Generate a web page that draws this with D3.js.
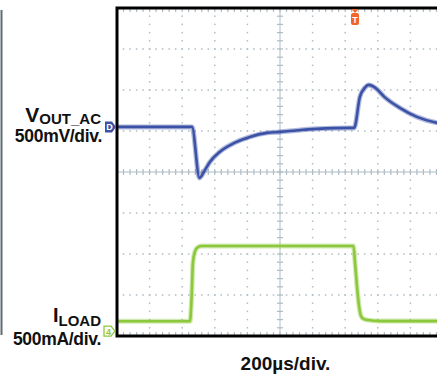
<!DOCTYPE html>
<html>
<head>
<meta charset="utf-8">
<script src="https://cdn.jsdelivr.net/npm/d3@7"></script>
<style>
  html, body { margin: 0; padding: 0; background: #fff; }
  text { font-family: "Liberation Sans", Arial, Helvetica, sans-serif; font-weight: bold; fill: #111; }
</style>
</head>
<body>
<div id="chart"></div>
<script>
// time in µs, 200 µs/div, 10 divisions
const timeDivs = 10, voltDivs = 8;
const usPerDiv = 200;

// VOUT_AC trace, mV relative to its channel marker (500 mV/div)
const voutTime = [0, 460, 506, 540, 570, 630, 720, 815, 920, 1000, 1125, 1225, 1430, 1455, 1490, 1520, 1545, 1585, 1640, 1735, 1840, 1965, 2000];
const voutMv   = [0, 0, -622, -524, -427, -305, -195, -122, -73, -61, -37, -24, -12, -12, 366, 476, 512, 476, 366, 232, 122, 49, 37];
const voutOffsetDiv = 1.1;

// ILOAD trace, mA relative to its channel marker (500 mA/div)
const iloadTime = [0, 448, 457, 466, 479, 497, 521, 1451, 1460, 1472, 1485, 1497, 1515, 1540, 1613, 2000];
const iloadMa   = [120, 120, 378, 841, 975, 1024, 1037, 1037, 841, 549, 305, 183, 146, 134, 122, 122];
const iloadOffsetDiv = -3.88;

const W = 437, H = 376;
const plot = { left: 117, top: 8, right: 443, bottom: 336 };

const svg = d3.select("#chart").append("svg").attr("width", W).attr("height", H);

const x = d3.scaleLinear().domain([0, timeDivs * usPerDiv]).range([plot.left, plot.right]);
const yDiv = d3.scaleLinear().domain([-voltDivs / 2, voltDivs / 2]).range([plot.bottom, plot.top]);

const gridColor = "#aebcc4";
svg.append("clipPath").attr("id", "clip").append("rect")
    .attr("x", plot.left).attr("y", plot.top).attr("width", W - plot.left).attr("height", plot.bottom - plot.top);

const grid = svg.append("g").attr("clip-path", "url(#clip)");
const minorX = d3.range(0, timeDivs * 5 + 1).map(k => k * usPerDiv / 5);
const minorY = d3.range(0, voltDivs * 5 + 1).map(k => -voltDivs / 2 + k / 5);

// dotted grid lines
d3.range(1, timeDivs).filter(i => i !== timeDivs / 2).forEach(i => {
    grid.selectAll(null).data(minorY).enter().append("rect")
        .attr("x", x(i * usPerDiv) - 0.75).attr("y", d => yDiv(d) - 0.75)
        .attr("width", 1.5).attr("height", 1.5).attr("fill", gridColor);
});
d3.range(1, voltDivs).filter(j => j !== voltDivs / 2).forEach(j => {
    const v = -voltDivs / 2 + j;
    grid.selectAll(null).data(minorX).enter().append("rect")
        .attr("x", d => x(d) - 0.75).attr("y", yDiv(v) - 0.75)
        .attr("width", 1.5).attr("height", 1.5).attr("fill", gridColor);
});

// centre axes with ticks
const cx = x(timeDivs / 2 * usPerDiv), cy = yDiv(0);
grid.append("line").attr("x1", plot.left).attr("x2", W).attr("y1", cy).attr("y2", cy)
    .attr("stroke", gridColor).attr("stroke-width", 1);
grid.append("line").attr("x1", cx).attr("x2", cx).attr("y1", plot.top).attr("y2", plot.bottom)
    .attr("stroke", gridColor).attr("stroke-width", 1);
grid.selectAll(null).data(minorX).enter().append("line")
    .attr("x1", d => x(d)).attr("x2", d => x(d)).attr("y1", cy - 3).attr("y2", cy + 3)
    .attr("stroke", gridColor).attr("stroke-width", 1.2);
grid.selectAll(null).data(minorY).enter().append("line")
    .attr("x1", cx - 3).attr("x2", cx + 3).attr("y1", d => yDiv(d)).attr("y2", d => yDiv(d))
    .attr("stroke", gridColor).attr("stroke-width", 1.2);
// border ticks
grid.selectAll(null).data(minorX).enter().append("line")
    .attr("x1", d => x(d)).attr("x2", d => x(d)).attr("y1", plot.top).attr("y2", plot.top + 4)
    .attr("stroke", gridColor).attr("stroke-width", 1.2);
grid.selectAll(null).data(minorX).enter().append("line")
    .attr("x1", d => x(d)).attr("x2", d => x(d)).attr("y1", plot.bottom - 4).attr("y2", plot.bottom)
    .attr("stroke", gridColor).attr("stroke-width", 1.2);

// traces
const blue = "#3b52a6", green = "#8cc83c";
const voutLine = d3.line().x(d => x(d[0])).y(d => yDiv(d[1] / 500 + voutOffsetDiv)).curve(d3.curveMonotoneX);
const iloadLine = d3.line().x(d => x(d[0])).y(d => yDiv(d[1] / 500 + iloadOffsetDiv)).curve(d3.curveMonotoneX);
const vout = d3.zip(voutTime, voutMv), iload = d3.zip(iloadTime, iloadMa);
const traces = svg.append("g").attr("clip-path", "url(#clip)");
[[iload, iloadLine, green], [vout, voutLine, blue]].forEach(([data, gen, col]) => {
    traces.append("path").attr("d", gen(data)).attr("fill", "none")
        .attr("stroke", col).attr("stroke-width", 5).attr("stroke-opacity", 0.4);
    traces.append("path").attr("d", gen(data)).attr("fill", "none")
        .attr("stroke", col).attr("stroke-width", 2.6);
});

// frame
svg.append("path")
    .attr("d", `M${W},${plot.top}H${plot.left}V${plot.bottom}H${W}`)
    .attr("fill", "none").attr("stroke", "#000").attr("stroke-width", 3);
svg.append("line").attr("x1", 1.5).attr("x2", 1.5).attr("y1", 10).attr("y2", 335)
    .attr("stroke", "#5d6d74").attr("stroke-width", 2);

// channel markers
const my = yDiv(voutOffsetDiv);
svg.append("path").attr("d", `M105,${my - 5.5}H112L116,${my}L112,${my + 5.5}H105Z`).attr("fill", blue);
svg.append("text").attr("x", 109.5).attr("y", my + 3.5).attr("text-anchor", "middle")
    .attr("font-size", 9).style("fill", "#fff").text("D");
const gy = yDiv(iloadOffsetDiv);
svg.append("path").attr("d", `M104,${gy - 5}H111L115,${gy}L111,${gy + 5}H104Z`)
    .attr("fill", "#fff").attr("stroke", green).attr("stroke-width", 1.3);
svg.append("text").attr("x", 108.5).attr("y", gy + 3.5).attr("text-anchor", "middle")
    .attr("font-size", 9).style("fill", green).text("4");

// trigger marker
const tx = x(1460);
const orange = "#f0652a";
svg.append("path").attr("d", `M${tx - 3.5},${plot.top + 1}H${tx + 3.5}L${tx},${plot.top + 5}Z`).attr("fill", orange);
svg.append("rect").attr("x", tx - 4).attr("y", plot.top + 5).attr("width", 8).attr("height", 12)
    .attr("rx", 2).attr("fill", orange);
svg.append("text").attr("x", tx).attr("y", plot.top + 15).attr("text-anchor", "middle")
    .attr("font-size", 9).style("fill", "#fff").text("T");

// labels
const t1 = svg.append("text").attr("x", 101).attr("y", 122).attr("text-anchor", "end").attr("font-size", 21);
t1.append("tspan").text("V");
t1.append("tspan").attr("font-size", 15).attr("dy", 2).text("OUT_AC");
svg.append("text").attr("x", 102).attr("y", 142).attr("text-anchor", "end").attr("font-size", 17.5)
    .attr("letter-spacing", -0.3).text("500mV/div.");

const t2 = svg.append("text").attr("x", 101).attr("y", 322).attr("text-anchor", "end").attr("font-size", 20);
t2.append("tspan").text("I");
t2.append("tspan").attr("font-size", 15).attr("dy", 4).text("LOAD");
svg.append("text").attr("x", 101).attr("y", 345).attr("text-anchor", "end").attr("font-size", 17.5)
    .attr("letter-spacing", -0.3).text("500mA/div.");

svg.append("text").attr("x", 285.5).attr("y", 370).attr("text-anchor", "middle").attr("font-size", 19)
    .text("200µs/div.");
</script>
</body>
</html>
